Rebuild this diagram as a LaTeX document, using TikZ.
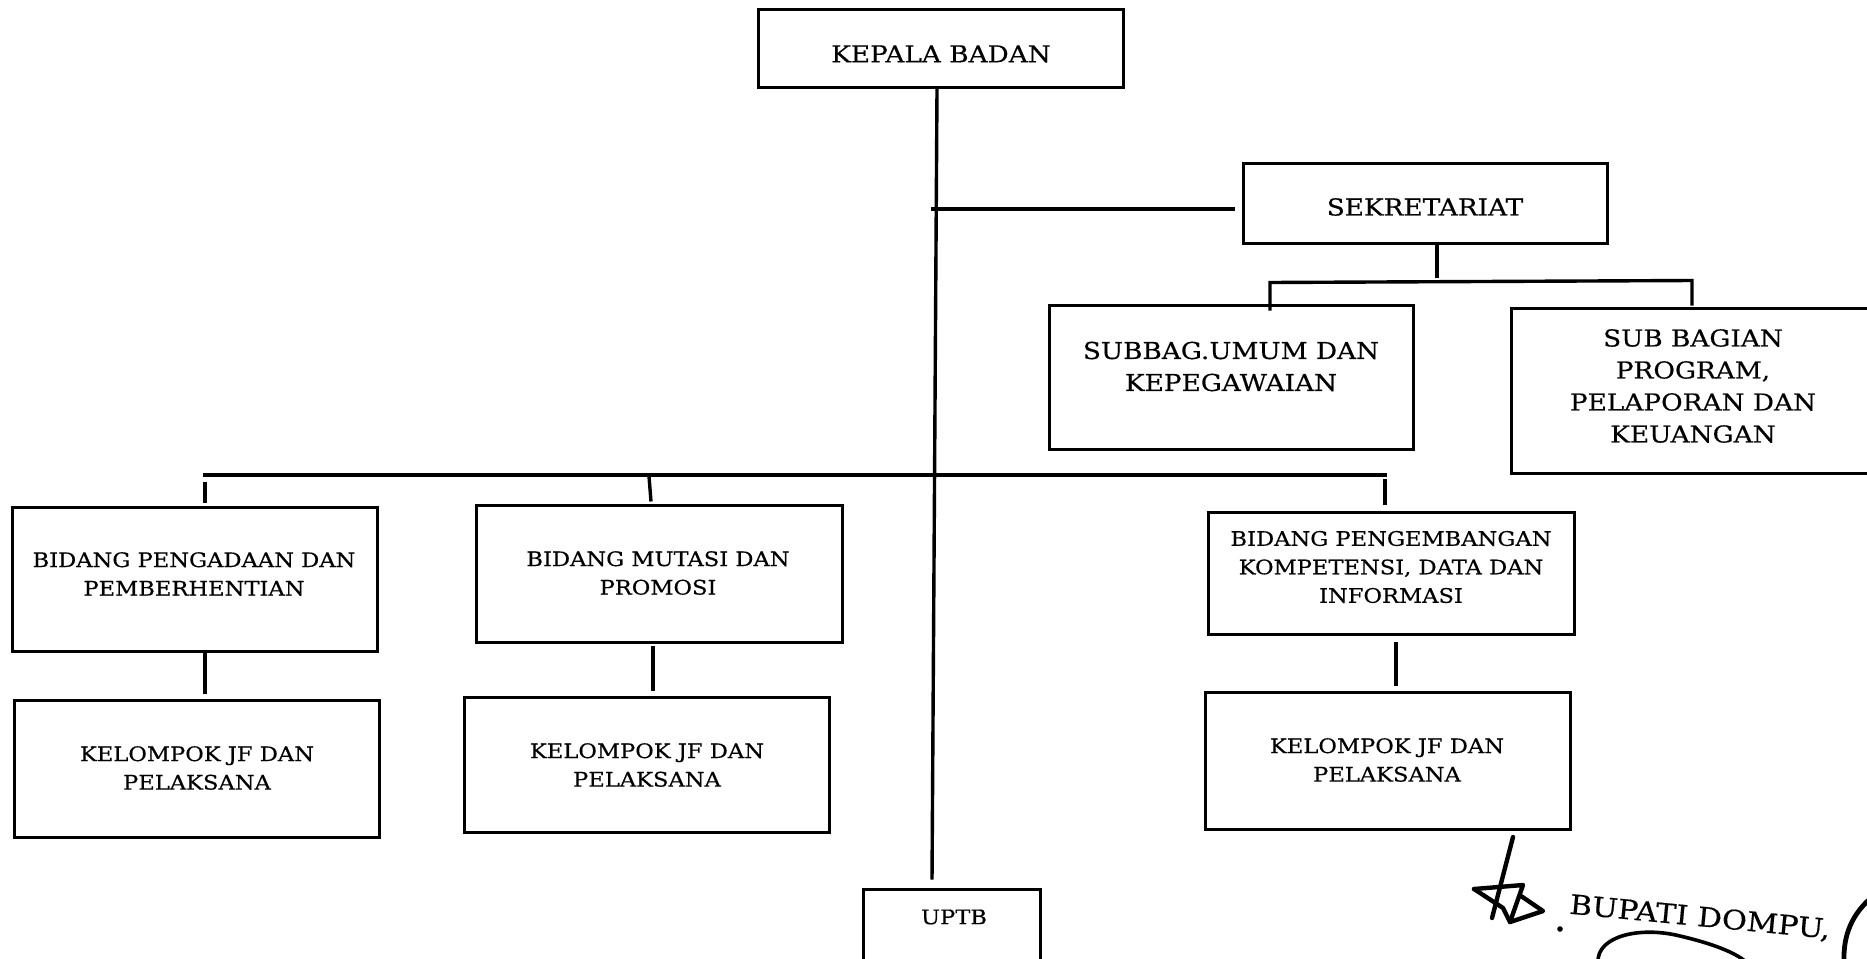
\documentclass[tikz,border=0pt]{standalone}
\usepackage{fontspec}
\setmainfont[FakeStretch=1.13,FakeBold=0.4]{DejaVu Serif}
\begin{document}
\begin{tikzpicture}[x=1pt,y=-1pt,
  box/.style={draw, line width=3pt, inner sep=0pt},
  bigtxt/.style={align=center, inner sep=0pt, font=\fontsize{23.3}{32}\selectfont},
  midtxt/.style={align=center, inner sep=0pt, font=\fontsize{20}{28.5}\selectfont},
  link/.style={line width=3.4pt},
  sig/.style={line width=4.4pt, line cap=round, line join=round}]

\useasboundingbox (0,0) rectangle (1867,958);
\path[clip] (0,0) rectangle (1867,958);

% ---- boxes ----
\node[box, minimum width=365pt, minimum height=77pt]  (kb)     at (940.5,48.5) {};
\node[box, minimum width=364pt, minimum height=80pt]  (sek)    at (1425,203)   {};
\node[box, minimum width=364pt, minimum height=144pt] (subbag) at (1231,377)   {};
\node[box, minimum width=364pt, minimum height=165pt] (sub2)   at (1693,390.5) {};
\node[box, minimum width=365pt, minimum height=144pt] (bid1)   at (194.5,579)  {};
\node[box, minimum width=366pt, minimum height=137pt] (bid2)   at (659,573.5)  {};
\node[box, minimum width=366pt, minimum height=122pt] (bid3)   at (1391,573)   {};
\node[box, minimum width=365pt, minimum height=137pt] (kel1)   at (196.5,768.5) {};
\node[box, minimum width=365pt, minimum height=135pt] (kel2)   at (646.5,764.5) {};
\node[box, minimum width=365pt, minimum height=137pt] (kel3)   at (1387.5,760.5) {};
\node[box, minimum width=177pt, minimum height=110pt] (uptb)   at (951.5,944)  {};

% ---- texts ----
\node[bigtxt] (kbT)     at (941,54)    {KEPALA BADAN};
\node[bigtxt] (sekT)    at (1425,207)  {SEKRETARIAT};
\node[bigtxt] (subbagT) at (1231,366.5) {SUBBAG.UMUM DAN\\KEPEGAWAIAN};
\node[bigtxt] (sub2T)   at (1693,386)  {SUB BAGIAN\\PROGRAM,\\PELAPORAN DAN\\KEUANGAN};
\node[midtxt] (bid1T)   at (194,574)   {BIDANG PENGADAAN DAN\\PEMBERHENTIAN};
\node[midtxt] (bid2T)   at (658,573)   {BIDANG MUTASI DAN\\PROMOSI};
\node[midtxt] (bid3T)   at (1391,567)  {BIDANG PENGEMBANGAN\\KOMPETENSI, DATA DAN\\INFORMASI};
\node[midtxt] (kel1T)   at (197,768)   {KELOMPOK JF DAN\\PELAKSANA};
\node[midtxt] (kel2T)   at (647,765)   {KELOMPOK JF DAN\\PELAKSANA};
\node[midtxt] (kel3T)   at (1387,760)  {KELOMPOK JF DAN\\PELAKSANA};
\node[midtxt] (uptbT)   at (954,917)   {UPTB};

% ---- connectors ----
% trunk from the head down to UPTB
\draw[link] ([xshift=-3.5pt]kb.south) -- ([xshift=-19.5pt,yshift=8pt]uptb.north);
% branch to the secretariat
\coordinate (jSek) at (931,209);
\draw[link] (jSek) -- ([xshift=-7pt]sek.west |- jSek);
% secretariat to its two sub-sections
\draw[link] ([xshift=12pt]sek.south) -- ([xshift=12pt,yshift=-33pt]sek.south);
\draw[link] ([xshift=39pt,yshift=-7pt]subbag.north) -- ([xshift=39pt,yshift=21pt]subbag.north)
  -- ([xshift=-1pt,yshift=26pt]sub2.north) -- ([xshift=-1pt,yshift=1pt]sub2.north);
% main bar to the three divisions
\coordinate (barL) at (203,475);
\coordinate (barR) at (1387,475);
\draw[link] (barL) -- (barR);
\draw[link] ([xshift=10.5pt,yshift=24pt]bid1.north) -- ([xshift=10.5pt,yshift=3pt]bid1.north);
\draw[link] ([xshift=-10pt,yshift=27pt]bid2.north) -- ([xshift=-8pt,yshift=2pt]bid2.north);
\draw[link] ([xshift=-6pt,yshift=32pt]bid3.north) -- ([xshift=-6pt,yshift=6pt]bid3.north);
% divisions to their working groups
\draw[link] ([xshift=10.5pt,yshift=3pt]bid1.south) -- ([xshift=8.5pt,yshift=5pt]kel1.north);
\draw[link] ([xshift=-6pt,yshift=-2pt]bid2.south) -- ([xshift=6.5pt,yshift=5pt]kel2.north);
\draw[link] ([xshift=5pt,yshift=-6pt]bid3.south) -- ([xshift=8.5pt,yshift=5pt]kel3.north);

% ---- signature block ----
\draw[sig] (1513,837) -- (1492,918);
\draw[sig] (1474,889) -- (1523,885) -- (1510,922) -- (1543,911) -- (1521,896);
\draw[sig] (1474,889) -- (1503,908) -- (1510,922);
\fill (1560,929) circle (2.8pt);
\node[inner sep=0pt, rotate=-5.5, font=\fontsize{27}{27}\selectfont] (bupati) at (1700,918) {BUPATI DOMPU,};
\draw[line width=3.6pt, line cap=round] (1598,962) .. controls (1597,936) and (1640,926) .. (1680,936)
  .. controls (1710,943) and (1735,952) .. (1746,962);
\draw[line width=4.8pt, line cap=round] (1872,897) .. controls (1852,914) and (1843,935) .. (1844,962);
\end{tikzpicture}
\end{document}
